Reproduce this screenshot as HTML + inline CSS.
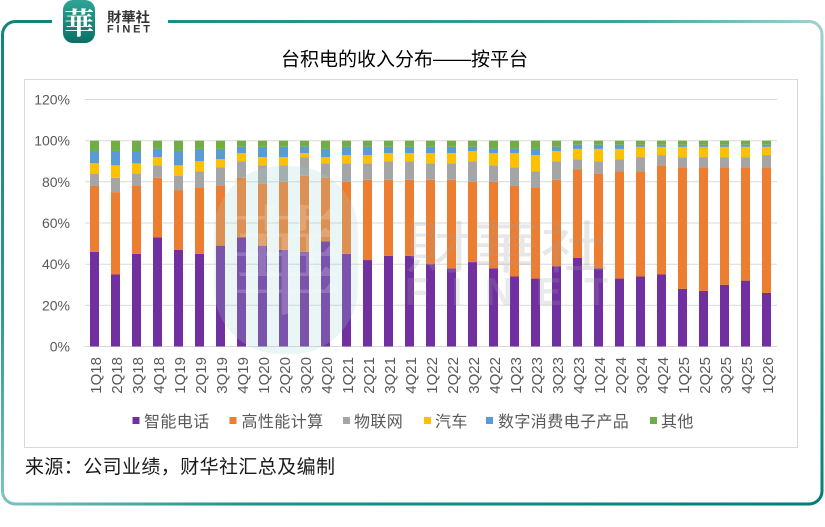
<!DOCTYPE html>
<html><head><meta charset="utf-8"><style>
html,body{margin:0;padding:0;background:#fff;}
svg{display:block;}
.p{fill:#7030A0}.o{fill:#ED7D31}.g{fill:#A5A5A5}.y{fill:#FFC000}.b{fill:#5B9BD5}.n{fill:#70AD47}
.yl{font-family:"Liberation Sans",sans-serif;font-size:14px;fill:#595959;text-anchor:end}
.xl{font-family:"Liberation Sans",sans-serif;font-size:15px;fill:#595959;text-anchor:end}
.lg{font-family:"Liberation Sans","Noto Sans CJK SC",sans-serif;font-size:16px;fill:#595959;letter-spacing:0.4px}
</style></head><body>
<svg width="825" height="527" viewBox="0 0 825 527" xmlns="http://www.w3.org/2000/svg">
<defs>
<linearGradient id="gt" x1="0" y1="0" x2="825" y2="0" gradientUnits="userSpaceOnUse"><stop offset="0" stop-color="#0e857d"/><stop offset="0.75" stop-color="#3aa39c"/><stop offset="1" stop-color="#a3d3cf"/></linearGradient>
<linearGradient id="gr" x1="0" y1="20" x2="0" y2="505" gradientUnits="userSpaceOnUse"><stop offset="0" stop-color="#a3d3cf"/><stop offset="0.5" stop-color="#3ea39c"/><stop offset="1" stop-color="#008078"/></linearGradient>
<linearGradient id="gb" x1="0" y1="0" x2="825" y2="0" gradientUnits="userSpaceOnUse"><stop offset="0" stop-color="#7cc4be"/><stop offset="0.3" stop-color="#1b9189"/><stop offset="1" stop-color="#007f77"/></linearGradient>
<linearGradient id="gl" x1="0" y1="20" x2="0" y2="505" gradientUnits="userSpaceOnUse"><stop offset="0" stop-color="#0e857d"/><stop offset="0.6" stop-color="#2a9a92"/><stop offset="1" stop-color="#7cc4be"/></linearGradient>
<linearGradient id="lg" x1="0" y1="0" x2="0" y2="1"><stop offset="0" stop-color="#2fa394"/><stop offset="1" stop-color="#0b6f66"/></linearGradient>
</defs>

<!-- frame -->
<path d="M2.5,491 L2.5,34.5 A13,13 0 0 1 15.5,21.5 L52,21.5" fill="none" stroke="url(#gl)" stroke-width="3"/>
<path d="M168,21.5 L809,21.5 A13,13 0 0 1 822,34.5" fill="none" stroke="url(#gt)" stroke-width="3"/>
<path d="M822,34.5 L822,491" fill="none" stroke="url(#gr)" stroke-width="3"/>
<path d="M2.5,491 A13,13 0 0 0 15.5,504 L809,504 A13,13 0 0 0 822,491" fill="none" stroke="url(#gb)" stroke-width="3"/>

<!-- logo -->
<rect x="63" y="0" width="32" height="43" rx="10" fill="url(#lg)"/>
<text x="79" y="34" text-anchor="middle" font-family="'Noto Serif CJK SC','Noto Sans CJK SC',serif" font-weight="bold" font-size="30" fill="#fff">華</text>
<text x="107" y="22" font-family="'Liberation Sans','Noto Sans CJK SC',sans-serif" font-size="13.5" font-weight="bold" fill="#333" textLength="43" lengthAdjust="spacingAndGlyphs">財華社</text>
<text x="107" y="32.5" font-family="'Liberation Sans',sans-serif" font-size="11" font-weight="bold" fill="#333" textLength="43" lengthAdjust="spacing">FINET</text>

<!-- title -->
<text x="281" y="65.5" font-family="'Liberation Sans','Noto Sans CJK SC',sans-serif" font-size="19" fill="#000">台积电的收入分布——按平台</text>

<!-- chart box -->
<rect x="24.5" y="79.5" width="773" height="368" fill="none" stroke="#d9d9d9" stroke-width="1"/>

<!-- gridlines -->
<g stroke="#d9d9d9" stroke-width="1">
<line x1="85" x2="777" y1="99.5" y2="99.5"/>
<line x1="85" x2="777" y1="140.7" y2="140.7"/>
<line x1="85" x2="777" y1="181.8" y2="181.8"/>
<line x1="85" x2="777" y1="223" y2="223"/>
<line x1="85" x2="777" y1="264.2" y2="264.2"/>
<line x1="85" x2="777" y1="305.3" y2="305.3"/>
<line x1="85" x2="777" y1="346.5" y2="346.5"/>
</g>

<!-- y labels -->
<text class="yl" x="70" y="104.5">120%</text>
<text class="yl" x="70" y="145.7">100%</text>
<text class="yl" x="70" y="186.8">80%</text>
<text class="yl" x="70" y="228">60%</text>
<text class="yl" x="70" y="269.2">40%</text>
<text class="yl" x="70" y="310.3">20%</text>
<text class="yl" x="70" y="351.5">0%</text>

<!-- bars -->
<g id="bars">
<g transform="translate(90,346.5) scale(1,-2.0583)"><rect class="p" width="9" y="0" height="46"/><rect class="o" width="9" y="46" height="32"/><rect class="g" width="9" y="78" height="6"/><rect class="y" width="9" y="84" height="5"/><rect class="b" width="9" y="89" height="6"/><rect class="n" width="9" y="95" height="5"/></g>
<g transform="translate(111,346.5) scale(1,-2.0583)"><rect class="p" width="9" y="0" height="35"/><rect class="o" width="9" y="35" height="40"/><rect class="g" width="9" y="75" height="7"/><rect class="y" width="9" y="82" height="6"/><rect class="b" width="9" y="88" height="7"/><rect class="n" width="9" y="95" height="5"/></g>
<g transform="translate(132,346.5) scale(1,-2.0583)"><rect class="p" width="9" y="0" height="45"/><rect class="o" width="9" y="45" height="33"/><rect class="g" width="9" y="78" height="6"/><rect class="y" width="9" y="84" height="5"/><rect class="b" width="9" y="89" height="6"/><rect class="n" width="9" y="95" height="5"/></g>
<g transform="translate(153,346.5) scale(1,-2.0583)"><rect class="p" width="9" y="0" height="53"/><rect class="o" width="9" y="53" height="29"/><rect class="g" width="9" y="82" height="6"/><rect class="y" width="9" y="88" height="4"/><rect class="b" width="9" y="92" height="4"/><rect class="n" width="9" y="96" height="4"/></g>
<g transform="translate(174,346.5) scale(1,-2.0583)"><rect class="p" width="9" y="0" height="47"/><rect class="o" width="9" y="47" height="29"/><rect class="g" width="9" y="76" height="7"/><rect class="y" width="9" y="83" height="5"/><rect class="b" width="9" y="88" height="7"/><rect class="n" width="9" y="95" height="5"/></g>
<g transform="translate(195,346.5) scale(1,-2.0583)"><rect class="p" width="9" y="0" height="45"/><rect class="o" width="9" y="45" height="32"/><rect class="g" width="9" y="77" height="8"/><rect class="y" width="9" y="85" height="5"/><rect class="b" width="9" y="90" height="6"/><rect class="n" width="9" y="96" height="4"/></g>
<g transform="translate(216,346.5) scale(1,-2.0583)"><rect class="p" width="9" y="0" height="49"/><rect class="o" width="9" y="49" height="29"/><rect class="g" width="9" y="78" height="9"/><rect class="y" width="9" y="87" height="4"/><rect class="b" width="9" y="91" height="5"/><rect class="n" width="9" y="96" height="4"/></g>
<g transform="translate(237,346.5) scale(1,-2.0583)"><rect class="p" width="9" y="0" height="53"/><rect class="o" width="9" y="53" height="29"/><rect class="g" width="9" y="82" height="8"/><rect class="y" width="9" y="90" height="4"/><rect class="b" width="9" y="94" height="3"/><rect class="n" width="9" y="97" height="3"/></g>
<g transform="translate(258,346.5) scale(1,-2.0583)"><rect class="p" width="9" y="0" height="49"/><rect class="o" width="9" y="49" height="30"/><rect class="g" width="9" y="79" height="9"/><rect class="y" width="9" y="88" height="4"/><rect class="b" width="9" y="92" height="5"/><rect class="n" width="9" y="97" height="3"/></g>
<g transform="translate(279,346.5) scale(1,-2.0583)"><rect class="p" width="9" y="0" height="47"/><rect class="o" width="9" y="47" height="33"/><rect class="g" width="9" y="80" height="8"/><rect class="y" width="9" y="88" height="4"/><rect class="b" width="9" y="92" height="5"/><rect class="n" width="9" y="97" height="3"/></g>
<g transform="translate(300,346.5) scale(1,-2.0583)"><rect class="p" width="9" y="0" height="46"/><rect class="o" width="9" y="46" height="37"/><rect class="g" width="9" y="83" height="9"/><rect class="y" width="9" y="92" height="2"/><rect class="b" width="9" y="94" height="3"/><rect class="n" width="9" y="97" height="3"/></g>
<g transform="translate(321,346.5) scale(1,-2.0583)"><rect class="p" width="9" y="0" height="51"/><rect class="o" width="9" y="51" height="31"/><rect class="g" width="9" y="82" height="7"/><rect class="y" width="9" y="89" height="3"/><rect class="b" width="9" y="92" height="4"/><rect class="n" width="9" y="96" height="4"/></g>
<g transform="translate(342,346.5) scale(1,-2.0583)"><rect class="p" width="9" y="0" height="45"/><rect class="o" width="9" y="45" height="35"/><rect class="g" width="9" y="80" height="9"/><rect class="y" width="9" y="89" height="4"/><rect class="b" width="9" y="93" height="4"/><rect class="n" width="9" y="97" height="3"/></g>
<g transform="translate(363,346.5) scale(1,-2.0583)"><rect class="p" width="9" y="0" height="42"/><rect class="o" width="9" y="42" height="39"/><rect class="g" width="9" y="81" height="8"/><rect class="y" width="9" y="89" height="4"/><rect class="b" width="9" y="93" height="4"/><rect class="n" width="9" y="97" height="3"/></g>
<g transform="translate(384,346.5) scale(1,-2.0583)"><rect class="p" width="9" y="0" height="44"/><rect class="o" width="9" y="44" height="37"/><rect class="g" width="9" y="81" height="9"/><rect class="y" width="9" y="90" height="4"/><rect class="b" width="9" y="94" height="3"/><rect class="n" width="9" y="97" height="3"/></g>
<g transform="translate(405,346.5) scale(1,-2.0583)"><rect class="p" width="9" y="0" height="44"/><rect class="o" width="9" y="44" height="37"/><rect class="g" width="9" y="81" height="9"/><rect class="y" width="9" y="90" height="4"/><rect class="b" width="9" y="94" height="3"/><rect class="n" width="9" y="97" height="3"/></g>
<g transform="translate(426,346.5) scale(1,-2.0583)"><rect class="p" width="9" y="0" height="40"/><rect class="o" width="9" y="40" height="41"/><rect class="g" width="9" y="81" height="8"/><rect class="y" width="9" y="89" height="5"/><rect class="b" width="9" y="94" height="3"/><rect class="n" width="9" y="97" height="3"/></g>
<g transform="translate(447,346.5) scale(1,-2.0583)"><rect class="p" width="9" y="0" height="38"/><rect class="o" width="9" y="38" height="43"/><rect class="g" width="9" y="81" height="8"/><rect class="y" width="9" y="89" height="5"/><rect class="b" width="9" y="94" height="3"/><rect class="n" width="9" y="97" height="3"/></g>
<g transform="translate(468,346.5) scale(1,-2.0583)"><rect class="p" width="9" y="0" height="41"/><rect class="o" width="9" y="41" height="39"/><rect class="g" width="9" y="80" height="10"/><rect class="y" width="9" y="90" height="5"/><rect class="b" width="9" y="95" height="2"/><rect class="n" width="9" y="97" height="3"/></g>
<g transform="translate(489,346.5) scale(1,-2.0583)"><rect class="p" width="9" y="0" height="38"/><rect class="o" width="9" y="38" height="42"/><rect class="g" width="9" y="80" height="8"/><rect class="y" width="9" y="88" height="6"/><rect class="b" width="9" y="94" height="2"/><rect class="n" width="9" y="96" height="4"/></g>
<g transform="translate(510,346.5) scale(1,-2.0583)"><rect class="p" width="9" y="0" height="34"/><rect class="o" width="9" y="34" height="44"/><rect class="g" width="9" y="78" height="9"/><rect class="y" width="9" y="87" height="7"/><rect class="b" width="9" y="94" height="2"/><rect class="n" width="9" y="96" height="4"/></g>
<g transform="translate(531,346.5) scale(1,-2.0583)"><rect class="p" width="9" y="0" height="33"/><rect class="o" width="9" y="33" height="44"/><rect class="g" width="9" y="77" height="8"/><rect class="y" width="9" y="85" height="8"/><rect class="b" width="9" y="93" height="3"/><rect class="n" width="9" y="96" height="4"/></g>
<g transform="translate(552,346.5) scale(1,-2.0583)"><rect class="p" width="9" y="0" height="39"/><rect class="o" width="9" y="39" height="42"/><rect class="g" width="9" y="81" height="9"/><rect class="y" width="9" y="90" height="5"/><rect class="b" width="9" y="95" height="2"/><rect class="n" width="9" y="97" height="3"/></g>
<g transform="translate(573,346.5) scale(1,-2.0583)"><rect class="p" width="9" y="0" height="43"/><rect class="o" width="9" y="43" height="43"/><rect class="g" width="9" y="86" height="5"/><rect class="y" width="9" y="91" height="5"/><rect class="b" width="9" y="96" height="2"/><rect class="n" width="9" y="98" height="2"/></g>
<g transform="translate(594,346.5) scale(1,-2.0583)"><rect class="p" width="9" y="0" height="38"/><rect class="o" width="9" y="38" height="46"/><rect class="g" width="9" y="84" height="6"/><rect class="y" width="9" y="90" height="6"/><rect class="b" width="9" y="96" height="2"/><rect class="n" width="9" y="98" height="2"/></g>
<g transform="translate(615,346.5) scale(1,-2.0583)"><rect class="p" width="9" y="0" height="33"/><rect class="o" width="9" y="33" height="52"/><rect class="g" width="9" y="85" height="6"/><rect class="y" width="9" y="91" height="5"/><rect class="b" width="9" y="96" height="2"/><rect class="n" width="9" y="98" height="2"/></g>
<g transform="translate(636,346.5) scale(1,-2.0583)"><rect class="p" width="9" y="0" height="34"/><rect class="o" width="9" y="34" height="51"/><rect class="g" width="9" y="85" height="7"/><rect class="y" width="9" y="92" height="5"/><rect class="b" width="9" y="97" height="1"/><rect class="n" width="9" y="98" height="2"/></g>
<g transform="translate(657,346.5) scale(1,-2.0583)"><rect class="p" width="9" y="0" height="35"/><rect class="o" width="9" y="35" height="53"/><rect class="g" width="9" y="88" height="5"/><rect class="y" width="9" y="93" height="4"/><rect class="b" width="9" y="97" height="1"/><rect class="n" width="9" y="98" height="2"/></g>
<g transform="translate(678,346.5) scale(1,-2.0583)"><rect class="p" width="9" y="0" height="28"/><rect class="o" width="9" y="28" height="59"/><rect class="g" width="9" y="87" height="5"/><rect class="y" width="9" y="92" height="5"/><rect class="b" width="9" y="97" height="1"/><rect class="n" width="9" y="98" height="2"/></g>
<g transform="translate(699,346.5) scale(1,-2.0583)"><rect class="p" width="9" y="0" height="27"/><rect class="o" width="9" y="27" height="60"/><rect class="g" width="9" y="87" height="5"/><rect class="y" width="9" y="92" height="5"/><rect class="b" width="9" y="97" height="1"/><rect class="n" width="9" y="98" height="2"/></g>
<g transform="translate(720,346.5) scale(1,-2.0583)"><rect class="p" width="9" y="0" height="30"/><rect class="o" width="9" y="30" height="57"/><rect class="g" width="9" y="87" height="5"/><rect class="y" width="9" y="92" height="5"/><rect class="b" width="9" y="97" height="1"/><rect class="n" width="9" y="98" height="2"/></g>
<g transform="translate(741,346.5) scale(1,-2.0583)"><rect class="p" width="9" y="0" height="32"/><rect class="o" width="9" y="32" height="55"/><rect class="g" width="9" y="87" height="5"/><rect class="y" width="9" y="92" height="5"/><rect class="b" width="9" y="97" height="1"/><rect class="n" width="9" y="98" height="2"/></g>
<g transform="translate(762,346.5) scale(1,-2.0583)"><rect class="p" width="9" y="0" height="26"/><rect class="o" width="9" y="26" height="61"/><rect class="g" width="9" y="87" height="6"/><rect class="y" width="9" y="93" height="4"/><rect class="b" width="9" y="97" height="1"/><rect class="n" width="9" y="98" height="2"/></g>
</g>

<!-- watermarks -->
<rect x="214" y="166" width="144" height="188" rx="66" fill="rgb(160,215,210)" fill-opacity="0.22"/>
<text x="286" y="305" text-anchor="middle" font-family="'Noto Serif CJK SC','Noto Sans CJK SC',serif" font-size="120" fill="#ffffff" fill-opacity="0.18">華</text>
<text x="405" y="268" font-family="'Liberation Sans','Noto Sans CJK SC',sans-serif" font-size="56" fill="rgb(160,160,160)" fill-opacity="0.25" textLength="203" lengthAdjust="spacingAndGlyphs">財華社</text>
<text x="405" y="305" font-family="'Liberation Sans',sans-serif" font-size="39" font-weight="bold" fill="rgb(160,160,160)" fill-opacity="0.22" textLength="203" lengthAdjust="spacing">FINET</text>

<!-- x labels -->
<text class="xl" transform="translate(101,357) rotate(-90)">1Q18</text>
<text class="xl" transform="translate(122,357) rotate(-90)">2Q18</text>
<text class="xl" transform="translate(143,357) rotate(-90)">3Q18</text>
<text class="xl" transform="translate(164,357) rotate(-90)">4Q18</text>
<text class="xl" transform="translate(185,357) rotate(-90)">1Q19</text>
<text class="xl" transform="translate(206,357) rotate(-90)">2Q19</text>
<text class="xl" transform="translate(227,357) rotate(-90)">3Q19</text>
<text class="xl" transform="translate(248,357) rotate(-90)">4Q19</text>
<text class="xl" transform="translate(269,357) rotate(-90)">1Q20</text>
<text class="xl" transform="translate(290,357) rotate(-90)">2Q20</text>
<text class="xl" transform="translate(311,357) rotate(-90)">3Q20</text>
<text class="xl" transform="translate(332,357) rotate(-90)">4Q20</text>
<text class="xl" transform="translate(353,357) rotate(-90)">1Q21</text>
<text class="xl" transform="translate(374,357) rotate(-90)">2Q21</text>
<text class="xl" transform="translate(395,357) rotate(-90)">3Q21</text>
<text class="xl" transform="translate(416,357) rotate(-90)">4Q21</text>
<text class="xl" transform="translate(437,357) rotate(-90)">1Q22</text>
<text class="xl" transform="translate(458,357) rotate(-90)">2Q22</text>
<text class="xl" transform="translate(479,357) rotate(-90)">3Q22</text>
<text class="xl" transform="translate(500,357) rotate(-90)">4Q22</text>
<text class="xl" transform="translate(521,357) rotate(-90)">1Q23</text>
<text class="xl" transform="translate(542,357) rotate(-90)">2Q23</text>
<text class="xl" transform="translate(563,357) rotate(-90)">3Q23</text>
<text class="xl" transform="translate(584,357) rotate(-90)">4Q23</text>
<text class="xl" transform="translate(605,357) rotate(-90)">1Q24</text>
<text class="xl" transform="translate(626,357) rotate(-90)">2Q24</text>
<text class="xl" transform="translate(647,357) rotate(-90)">3Q24</text>
<text class="xl" transform="translate(668,357) rotate(-90)">4Q24</text>
<text class="xl" transform="translate(689,357) rotate(-90)">1Q25</text>
<text class="xl" transform="translate(710,357) rotate(-90)">2Q25</text>
<text class="xl" transform="translate(731,357) rotate(-90)">3Q25</text>
<text class="xl" transform="translate(752,357) rotate(-90)">4Q25</text>
<text class="xl" transform="translate(773,357) rotate(-90)">1Q26</text>

<!-- legend -->
<rect x="132.5" y="417" width="7" height="7" class="p"/><text class="lg" x="144" y="427">智能电话</text>
<rect x="229.5" y="417" width="7" height="7" class="o"/><text class="lg" x="241.5" y="427">高性能计算</text>
<rect x="343" y="417" width="7" height="7" class="g"/><text class="lg" x="354" y="427">物联网</text>
<rect x="424" y="417" width="7" height="7" class="y"/><text class="lg" x="435" y="427">汽车</text>
<rect x="486" y="417" width="7" height="7" class="b"/><text class="lg" x="498" y="427">数字消费电子产品</text>
<rect x="650" y="417" width="7" height="7" class="n"/><text class="lg" x="661" y="427">其他</text>

<!-- footer -->
<text x="25" y="473" font-family="'Liberation Sans','Noto Sans CJK SC',sans-serif" font-size="19" fill="#1a1a1a" letter-spacing="0.4">来源：公司业绩，财华社汇总及编制</text>
</svg>
</body></html>
